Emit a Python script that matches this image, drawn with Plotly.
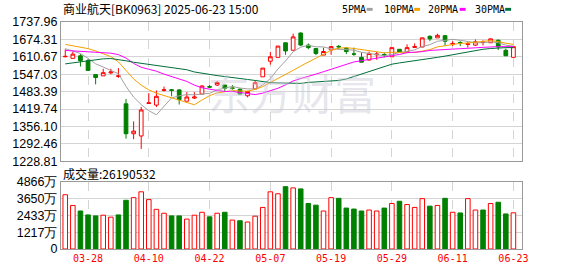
import plotly.graph_objects as go

# ---------------- data ----------------
dates = ["03-25","03-26","03-27","03-28","03-31","04-01","04-02","04-03","04-07","04-08",
         "04-09","04-10","04-11","04-14","04-15","04-16","04-17","04-18","04-21","04-22",
         "04-23","04-24","04-25","04-28","04-29","04-30","05-06","05-07","05-08","05-09",
         "05-12","05-13","05-14","05-15","05-16","05-19","05-20","05-21","05-22","05-23",
         "05-26","05-27","05-28","05-29","05-30","06-03","06-04","06-05","06-06","06-09",
         "06-10","06-11","06-12","06-13","06-16","06-17","06-18","06-19","06-20","06-23"]

opens = [1611.0,1605.1,1614.4,1596.6,1545.7,1541.1,1552.0,1539.0,1438.9,1329.6,
         1321.4,1440.0,1434.3,1488.0,1490.5,1489.8,1448.5,1460.0,1474.5,1502.0,
         1507.6,1507.6,1497.0,1492.3,1468.4,1493.4,1537.5,1594.5,1608.7,1662.1,
         1634.7,1697.7,1653.6,1640.8,1617.0,1635.8,1649.0,1641.8,1621.5,1608.7,
         1599.1,1618.0,1619.0,1610.9,1638.3,1630.1,1645.0,1646.5,1685.6,1679.9,
         1688.1,1657.0,1663.0,1656.0,1653.6,1663.0,1662.1,1671.3,1634.7,1608.7]
highs = [1638.3,1630.1,1620.5,1602.7,1545.7,1567.0,1567.0,1569.5,1456.7,1374.8,
         1427.1,1478.0,1487.7,1501.9,1492.3,1492.3,1481.6,1481.6,1507.6,1507.6,
         1521.8,1507.6,1507.6,1495.8,1486.0,1523.2,1569.5,1628.6,1650.0,1662.1,
         1695.2,1700.0,1659.6,1641.8,1644.3,1650.0,1653.6,1646.5,1644.3,1626.5,
         1630.0,1628.6,1626.5,1644.3,1638.3,1656.1,1659.6,1681.0,1689.2,1695.2,
         1688.1,1667.8,1667.8,1664.3,1673.9,1671.3,1678.0,1673.9,1640.8,1647.9]
lows = [1608.7,1605.1,1575.2,1561.0,1510.1,1541.1,1547.0,1534.0,1311.8,1309.6,
        1274.0,1440.0,1427.1,1484.0,1466.3,1436.4,1448.5,1456.7,1474.5,1495.8,
        1504.0,1486.2,1490.0,1472.0,1462.7,1493.4,1537.5,1582.4,1608.7,1618.0,
        1634.7,1650.0,1638.3,1616.9,1617.0,1618.0,1638.3,1620.5,1614.4,1591.0,
        1596.6,1600.0,1608.7,1610.9,1626.5,1630.1,1644.0,1646.5,1667.8,1679.9,
        1650.0,1650.0,1650.0,1644.3,1650.0,1652.5,1662.1,1635.8,1614.4,1608.7]
closes = [1612.3,1620.5,1596.6,1561.0,1535.0,1552.8,1555.3,1541.0,1329.6,1339.2,
          1416.4,1442.4,1466.3,1490.0,1488.0,1454.2,1463.8,1463.8,1504.0,1500.0,
          1517.2,1495.8,1495.8,1474.5,1484.1,1516.1,1569.5,1610.9,1650.0,1632.2,
          1683.5,1653.6,1644.3,1623.0,1630.1,1647.9,1647.0,1630.1,1620.5,1591.0,
          1623.0,1620.5,1618.0,1644.3,1626.5,1644.3,1648.0,1679.9,1676.3,1689.2,
          1667.8,1659.6,1662.0,1658.0,1665.7,1664.3,1676.3,1646.5,1614.4,1647.9]

ma5 = [1640.8,1632.2,1622.9,1605.2,1585.1,1573.2,1560.1,1549.0,1502.7,1463.6,
       1436.3,1413.7,1398.8,1430.9,1460.6,1468.2,1472.5,1472.0,1474.8,1477.2,
       1489.8,1496.2,1502.6,1496.7,1493.5,1493.3,1508.0,1531.0,1566.1,1595.7,
       1629.2,1646.0,1652.7,1647.3,1646.9,1639.8,1638.5,1635.6,1635.1,1627.3,
       1622.3,1617.0,1614.6,1619.4,1626.5,1630.7,1636.2,1648.6,1655.0,1667.5,
       1672.2,1674.6,1671.0,1667.3,1662.6,1661.9,1665.3,1662.2,1653.4,1649.9]
ma10 = [1656.1,1651.4,1645.4,1640.7,1632.2,1622.2,1611.6,1592.0,1561.0,1530.0,
        1507.0,1490.0,1477.7,1469.4,1462.2,1452.6,1443.6,1435.4,1452.8,1468.9,
        1479.0,1484.3,1487.3,1485.7,1485.3,1491.5,1502.1,1516.8,1531.4,1544.6,
        1561.2,1577.0,1591.9,1606.7,1621.3,1634.5,1642.3,1644.2,1641.2,1637.1,
        1631.1,1627.7,1625.1,1627.2,1626.9,1626.5,1626.6,1631.6,1637.2,1647.0,
        1651.5,1655.4,1659.8,1661.2,1665.1,1667.1,1669.9,1666.6,1660.4,1656.3]
ma20 = [1634.0,1632.2,1631.1,1629.4,1627.6,1626.5,1624.0,1618.7,1606.2,1586.6,
        1572.4,1565.3,1558.1,1547.5,1539.3,1530.4,1520.8,1507.2,1497.6,1492.3,
        1487.6,1484.1,1484.1,1479.8,1475.2,1472.7,1478.0,1486.9,1495.8,1508.3,
        1522.5,1531.4,1538.6,1547.5,1556.4,1566.0,1575.2,1584.9,1592.0,1596.6,
        1600.9,1606.2,1611.6,1615.1,1619.4,1625.8,1627.6,1629.7,1634.0,1636.5,
        1638.3,1639.0,1640.4,1641.1,1643.6,1645.4,1647.5,1647.9,1647.9,1647.9]
ma30 = [1584.9,1589.1,1593.0,1596.2,1599.8,1603.4,1604.4,1600.9,1596.2,1590.9,
        1587.3,1583.1,1579.5,1575.9,1572.4,1568.8,1563.5,1555.3,1550.0,1545.7,
        1542.1,1538.6,1534.3,1531.4,1527.9,1524.3,1519.0,1516.5,1515.4,1514.7,
        1513.6,1513.6,1517.2,1519.0,1521.8,1523.3,1524.3,1529.7,1538.6,1549.2,
        1558.1,1567.0,1575.9,1583.8,1588.4,1592.0,1597.3,1601.6,1605.1,1608.7,
        1613.3,1618.7,1622.9,1629.4,1634.7,1638.3,1641.1,1643.6,1644.3,1644.3]

volume_wan = [3928,3152,2750,2468,2398,2447,2306,2468,3526,3716,
              4140,3575,2870,2588,2398,2398,2165,2447,2659,2327,
              2588,2659,2094,2045,1953,2376,3011,4140,3998,4513,
              4422,4351,3293,3174,2750,3716,3667,2962,2891,2750,
              2821,2750,2962,3293,3456,3223,3011,3646,3103,3152,
              3667,2659,2609,3646,2821,2821,3293,3385,2539,2619]
volume_dir = ["u","u","d","d","d","u","u","d","d","u",
              "u","u","u","u","d","d","u","u","u","d",
              "u","d","u","d","u","u","u","u","u","d",
              "u","d","d","d","u","u","d","d","d","d",
              "u","u","d","u","d","u","u","u","d","u",
              "d","u","d","u","u","d","u","d","d","u"]

price_ticks = [1737.96,1674.31,1610.67,1547.03,1483.39,1419.74,1356.10,1292.46,1228.81]
vol_ticks = [0,1217,2433,3650,4866]
vol_tick_text = ["0","1217万","2433万","3650万","4866万"]
date_labels = ["03-28","04-10","04-22","05-07","05-19","05-29","06-11","06-23"]

title_text = "商业航天[BK0963] 2025-06-23 15:00"
vol_title = "成交量:26190532"
ma_names = ["5PMA","10PMA","20PMA","30PMA"]
ma_colors = ["#a0a0a0","#f5a000","#ff00ff","#006f3a"]

# ---------------- layout geometry ----------------
W, H = 578, 276
L, R, T, B = 56, 56, 22, 21
PW, PH = W - L - R, H - T - B
def px_x(px):
    return (px - L) / PW
def px_y(py):
    return (H - B - py) / PH

RED = "#ff0000"
GREEN = "#008000"
x = list(range(len(dates)))
tickpos = [dates.index(d) for d in date_labels]

fig = go.Figure()
fig.add_trace(go.Candlestick(
    x=x, open=opens, high=highs, low=lows, close=closes,
    increasing=dict(line=dict(color=RED, width=1), fillcolor="#ffffff"),
    decreasing=dict(line=dict(color=GREEN, width=1), fillcolor=GREEN),
    whiskerwidth=0, hoverinfo="skip", showlegend=False,
    xaxis="x", yaxis="y"))

for vals, c in zip([ma5, ma10, ma20, ma30], ma_colors):
    fig.add_trace(go.Scatter(x=x, y=vals, mode="lines", line=dict(color=c, width=1),
                             hoverinfo="skip", showlegend=False, xaxis="x", yaxis="y"))

fig.add_trace(go.Bar(
    x=x, y=volume_wan, width=0.6,
    marker=dict(color=["#ffffff" if d == "u" else GREEN for d in volume_dir],
                line=dict(color=[RED if d == "u" else GREEN for d in volume_dir], width=1)),
    hoverinfo="skip", showlegend=False, xaxis="x2", yaxis="y2"))

xr = [-0.56, len(dates) - 1 + 1.13]
grid = "#d4d4d4"
border = "#999999"
axis_font = dict(family="Liberation Sans, Arial", size=12.5, color="#000000")

fig.update_layout(
    width=W, height=H, margin=dict(l=L, r=R, t=T, b=B),
    paper_bgcolor="#ffffff", plot_bgcolor="#ffffff",
    hovermode=False, showlegend=False,
    xaxis=dict(domain=[0, 1], range=xr, anchor="y", tickvals=tickpos,
               showticklabels=False, showgrid=True, gridcolor=grid, griddash="dash",
               gridwidth=1, zeroline=False, showline=True, mirror=True,
               linecolor=border, linewidth=1, rangeslider=dict(visible=False), ticks=""),
    yaxis=dict(domain=[px_y(165), 1], range=[price_ticks[-1], price_ticks[0]],
               tickvals=price_ticks, ticktext=[f"{v:.2f}" for v in price_ticks],
               showgrid=True, gridcolor=grid, gridwidth=1, zeroline=False,
               showline=True, mirror=True, linecolor=border, linewidth=1,
               tickfont=axis_font, ticks=""),
    xaxis2=dict(domain=[0, 1], range=xr, anchor="y2", tickvals=tickpos,
                ticktext=date_labels, showticklabels=True,
                tickfont=dict(family="DejaVu Sans Mono", size=10, color=RED),
                showgrid=True, gridcolor=grid, griddash="dash", gridwidth=1,
                zeroline=False, showline=True, mirror=True, linecolor=border,
                linewidth=1, ticks=""),
    yaxis2=dict(domain=[0, px_y(186)], range=[0, vol_ticks[-1]],
                tickvals=vol_ticks, ticktext=vol_tick_text,
                showgrid=True, gridcolor=grid, gridwidth=1, zeroline=False,
                showline=True, mirror=True, linecolor=border, linewidth=1,
                tickfont=axis_font, ticks=""),
)

annotations = [
    dict(text="东方财富", xref="paper", yref="paper", x=px_x(290), y=px_y(93),
         xanchor="center", yanchor="middle", showarrow=False,
         font=dict(family="Noto Sans CJK SC", size=42, color="rgba(200,200,212,0.45)")),
    dict(text=title_text, xref="paper", yref="paper", x=px_x(56), y=px_y(8),
         xanchor="left", yanchor="middle", showarrow=False,
         font=dict(family="Noto Sans CJK SC", size=12, color="#000000")),
    dict(text=vol_title, xref="paper", yref="paper", x=px_x(56), y=px_y(178),
         xanchor="left", yanchor="middle", showarrow=False,
         font=dict(family="Noto Sans CJK SC", size=12, color="#000000")),
]
shapes = []
leg_text_x = [338, 380, 425, 472]
leg_box_x = [365, 413, 459, 505]
for name, c, tx, bx in zip(ma_names, ma_colors, leg_text_x, leg_box_x):
    annotations.append(dict(text=name, xref="paper", yref="paper", x=px_x(tx), y=px_y(9),
                            xanchor="left", yanchor="middle", showarrow=False,
                            font=dict(family="DejaVu Sans Mono", size=10, color="#000000")))
    shapes.append(dict(type="rect", xref="paper", yref="paper",
                       x0=px_x(bx), x1=px_x(bx + 6), y0=px_y(10.5), y1=px_y(7.5),
                       fillcolor=c, line=dict(width=0)))
fig.update_layout(annotations=annotations, shapes=shapes)

fig.write_html("out.html", config={"displayModeBar": False})
